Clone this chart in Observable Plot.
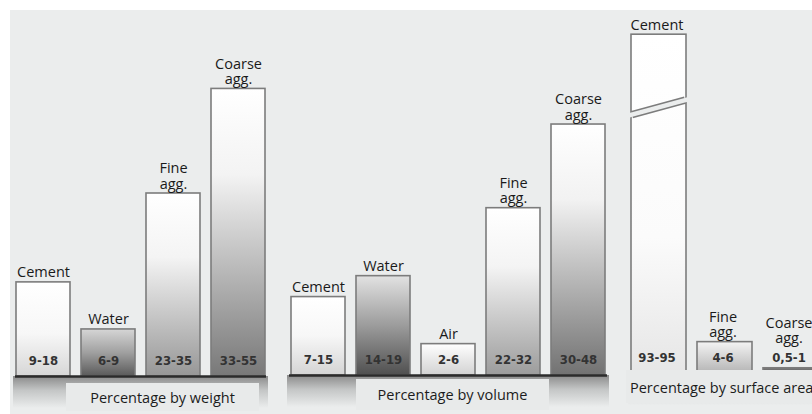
<!DOCTYPE html>
<html>
<head>
<meta charset="utf-8">
<script src="https://cdn.jsdelivr.net/npm/d3@7"></script>
<script src="https://cdn.jsdelivr.net/npm/@observablehq/plot@0.6"></script>
<style>
  html, body { margin: 0; padding: 0; background: #ffffff; }
  #wrap { position: relative; width: 812px; height: 414px; overflow: hidden; background: #ffffff; font-family: "Open Sans", sans-serif; }
  #bg { position: absolute; left: 10px; top: 10px; width: 802px; height: 404px; background: #ebeded; }
  .panel { position: absolute; left: 0; top: 0; max-width: none !important; }
  .title { position: absolute; background: #e8eaea; color: #1c1c1c; font-size: 14.5px; line-height: 20px; white-space: nowrap; box-sizing: border-box; }
</style>
</head>
<body>
<div id="wrap"><div id="bg"></div></div>
<script>
// ---------- data ----------
const weightCategories = ["Cement", "Water", "Fine agg.", "Coarse agg."];
const weightRanges = ["9-18", "6-9", "23-35", "33-55"];
const weightUpper = [18, 9, 35, 55];

const volumeCategories = ["Cement", "Water", "Air", "Fine agg.", "Coarse agg."];
const volumeRanges = ["7-15", "14-19", "2-6", "22-32", "30-48"];
const volumeUpper = [15, 19, 6, 32, 48];

const surfaceCategories = ["Cement", "Fine agg.", "Coarse agg."];
const surfaceRanges = ["93-95", "4-6", "0,5-1"];
const surfaceUpper = [95, 6, 1];

const panelTitles = ["Percentage by weight", "Percentage by volume", "Percentage by surface area"];

const yTop = 70;            // shared y-domain top (percent)
const surfaceCap = 64.8;    // the broken Cement bar is cut off here
const surfaceBreak = 50.9;  // where the break in that bar sits
const labelFloor = 4.8;     // lowest anchor for category labels

// ---------- styles ----------
const bgColor = "#ebeded";
const gradients = {
  weight: [
    [[0, "#ffffff"], [0.55, "#f7f7f7"], [1, "#d6d6d6"]],
    [[0, "#d6d6d6"], [0.5, "#a0a0a0"], [1, "#5a5a5a"]],
    [[0, "#ffffff"], [0.35, "#f4f4f4"], [1, "#979797"]],
    [[0, "#ffffff"], [0.3, "#f3f3f3"], [1, "#787878"]]
  ],
  volume: [
    [[0, "#ffffff"], [0.5, "#f7f7f7"], [1, "#d4d4d4"]],
    [[0, "#e2e2e2"], [0.5, "#9c9c9c"], [1, "#505050"]],
    [[0, "#ffffff"], [1, "#d2d2d2"]],
    [[0, "#ffffff"], [0.35, "#f4f4f4"], [1, "#9c9c9c"]],
    [[0, "#ffffff"], [0.3, "#f2f2f2"], [1, "#727272"]]
  ],
  surface: [
    [[0, "#ffffff"], [0.6, "#fbfbfb"], [1, "#e6e6e6"]],
    [[0, "#f4f4f4"], [1, "#b4b4b4"]],
    [[0, "#777777"], [1, "#666666"]]
  ]
};
const layouts = {
  weight:  {left: 15,  right: 266, width: 812, baseline: 376, labelDx: 0,
            box: {left: 66,  top: 383, width: 193, height: 28, padTop: 5, align: "center", padLeft: 0}},
  volume:  {left: 289, right: 607, width: 812, baseline: 375, labelDx: 0,
            box: {left: 356, top: 379, width: 193, height: 31, padTop: 6, align: "center", padLeft: 0}},
  surface: {left: 630, right: 818, width: 830, baseline: 373, labelDx: -2,
            box: {left: 626, top: 370, width: 240, height: 33, padTop: 8, align: "left", padLeft: 4}}
};
const plotSpan = 366; // pixel height of the y range

function makePanel(key, cats, ranges, upper, title, opts = {}) {
  const L = layouts[key];
  const H = 414;
  const rows = cats.map((c, i) => ({cat: c, range: ranges[i], upper: upper[i], idx: i}));
  const cap = opts.cap ?? Infinity;
  const marks = [
    Plot.barY(rows, {
      x: "cat", y: d => Math.min(d.upper, cap),
      fill: d => `url(#grad-${key}-${d.idx})`,
      stroke: "#7c7c7c", strokeWidth: 1.6
    })
  ];
  let brk = null;
  if (opts.breakAt != null) {
    brk = [{cat: cats[opts.breakIndex], y: opts.breakAt}];
    marks.push(Plot.tickY(brk, {x: "cat", y: "y", stroke: "#7c7c7c", strokeWidth: 7.5}));
    marks.push(Plot.tickY(brk, {x: "cat", y: "y", stroke: bgColor, strokeWidth: 4.5, insetLeft: -3, insetRight: -3}));
  }
  marks.push(Plot.ruleY([0], {stroke: "#2b2b2b", strokeWidth: 2.6}));
  marks.push(Plot.text(rows, {
    x: "cat", y: 0, text: "range", dy: -16, dx: L.labelDx, lineAnchor: "middle",
    fontFamily: "DejaVu Sans Condensed", fontWeight: "bold", fontSize: 13, fill: "#333333"
  }));
  marks.push(Plot.text(rows, {
    x: "cat", y: d => Math.max(Math.min(d.upper, cap), labelFloor),
    text: d => d.cat.replace(" ", "\n"), lineAnchor: "bottom", lineHeight: 1.05,
    dy: -5, dx: L.labelDx, fontSize: 14.5, fill: "#1a1a1a"
  }));

  const svg = Plot.plot({
    width: L.width, height: H,
    marginLeft: L.left, marginRight: L.width - L.right,
    marginTop: L.baseline - plotSpan, marginBottom: H - L.baseline,
    x: {type: "band", domain: cats, paddingInner: 11 / 66, paddingOuter: 0, axis: null},
    y: {domain: [0, yTop], axis: null},
    color: {type: "identity"},
    style: {background: "transparent", fontFamily: "'Open Sans', sans-serif", overflow: "visible", maxWidth: "none"},
    marks
  });
  svg.classList.add("panel");
  svg.style.maxWidth = "none";
  svg.style.width = L.width + "px";
  svg.style.height = H + "px";

  const root = d3.select(svg);
  const defs = root.insert("defs", ":first-child");
  gradients[key].forEach((stops, i) => {
    const g = defs.append("linearGradient").attr("id", `grad-${key}-${i}`)
      .attr("x1", 0).attr("y1", 0).attr("x2", 0).attr("y2", 1);
    stops.forEach(([o, c]) => g.append("stop").attr("offset", o).attr("stop-color", c));
  });
  const sg = defs.append("linearGradient").attr("id", `shadow-${key}`)
    .attr("x1", 0).attr("y1", 0).attr("x2", 0).attr("y2", 1);
  sg.append("stop").attr("offset", 0).attr("stop-color", "#8a8a8a");
  sg.append("stop").attr("offset", 0.45).attr("stop-color", "#c4c6c6");
  sg.append("stop").attr("offset", 1).attr("stop-color", bgColor);

  const xs = svg.scale("x");
  const ys = svg.scale("y");
  const xr = xs.range;
  const y0 = ys.apply(0);
  root.insert("rect", "defs + *")
    .attr("x", xr[0] - 2).attr("y", y0).attr("width", xr[1] - xr[0] + 4).attr("height", 32)
    .attr("fill", `url(#shadow-${key})`);

  if (brk) {
    const cx = xs.apply(brk[0].cat) + xs.bandwidth / 2;
    const cy = ys.apply(brk[0].y);
    root.selectAll('g[aria-label="tick"] line').attr("transform", `rotate(-15.3 ${cx} ${cy})`);
  }

  const wrap = document.getElementById("wrap");
  wrap.appendChild(svg);
  const b = L.box;
  const t = document.createElement("div");
  t.className = "title";
  t.textContent = title;
  Object.assign(t.style, {
    left: b.left + "px", top: b.top + "px", width: b.width + "px", height: b.height + "px",
    paddingTop: b.padTop + "px", paddingLeft: b.padLeft + "px", textAlign: b.align
  });
  wrap.appendChild(t);
}

makePanel("weight", weightCategories, weightRanges, weightUpper, panelTitles[0]);
makePanel("volume", volumeCategories, volumeRanges, volumeUpper, panelTitles[1]);
makePanel("surface", surfaceCategories, surfaceRanges, surfaceUpper, panelTitles[2],
  {cap: surfaceCap, breakAt: surfaceBreak, breakIndex: 0});
</script>
</body>
</html>
